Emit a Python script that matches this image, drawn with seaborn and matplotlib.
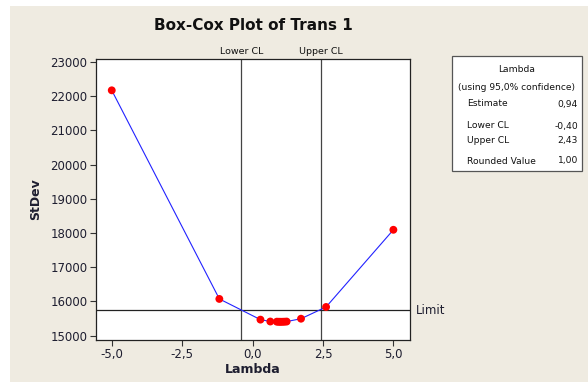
import matplotlib
matplotlib.use("Agg")
import matplotlib.pyplot as plt
import seaborn as sns
import pandas as pd
from matplotlib.patches import Rectangle

sns.set_theme(style="white")
plt.rcParams['font.family'] = ['DejaVu Sans']

# Data
lambdas = [-5.0, -1.18, 0.28, 0.63, 0.86, 0.92, 0.97, 1.02, 1.08, 1.14, 1.21, 1.72, 2.61, 5.0]
stdevs = [22170, 16075, 15470, 15415, 15410, 15408, 15407, 15407, 15408, 15410, 15414, 15497, 15840, 18095]
lower_cl = -0.40
upper_cl = 2.43
limit = 15745
xticks = [-5.0, -2.5, 0.0, 2.5, 5.0]
xtick_labels = ["-5,0", "-2,5", "0,0", "2,5", "5,0"]
yticks = [15000, 16000, 17000, 18000, 19000, 20000, 21000, 22000, 23000]
box_rows = [("Estimate", "0,94"), ("Lower CL", "-0,40"), ("Upper CL", "2,43"), ("Rounded Value", "1,00")]

df = pd.DataFrame({"Lambda": lambdas, "StDev": stdevs})

W, H = 588, 382
fig = plt.figure(figsize=(W / 100, H / 100), dpi=100)
fig.patch.set_facecolor("white")
bg = "#EFEBE1"
fig.patches.append(Rectangle((10 / W, 0), 1 - 10 / W, 1 - 6 / H, transform=fig.transFigure,
                             facecolor=bg, edgecolor="none", zorder=-10))

left, right, top, bottom = 95.7, 410, 59, 340
ax = fig.add_axes([left / W, 1 - bottom / H, (right - left) / W, (bottom - top) / H])
ax.set_facecolor("white")

sns.lineplot(data=df, x="Lambda", y="StDev", ax=ax, color="#2222ff", lw=0.8, sort=False, zorder=3)
sns.scatterplot(data=df, x="Lambda", y="StDev", ax=ax, color="#ff0000", s=32, edgecolor="none", zorder=4)

ax.axvline(lower_cl, color="#444444", lw=0.9, zorder=2)
ax.axvline(upper_cl, color="#444444", lw=0.9, zorder=2)
ax.axhline(limit, color="#222222", lw=0.9, zorder=2)

ax.set_xlim(-5.57, 5.59)
ax.set_ylim(14875, 23085)
ax.set_xticks(xticks)
ax.set_xticklabels(xtick_labels)
ax.set_yticks(yticks)
ax.set_yticklabels([str(v) for v in yticks])
ax.tick_params(axis="both", direction="out", length=4, width=0.8, color="#333333",
               labelsize=8.5, labelcolor="#1e1e30", bottom=True, left=True, pad=2)
for s in ax.spines.values():
    s.set_color("#222222")
    s.set_linewidth(0.9)

ax.set_xlabel("Lambda", fontsize=9, fontweight="bold", color="#1e1e30", labelpad=1)
ax.set_ylabel("StDev", fontsize=9, fontweight="bold", color="#1e1e30", labelpad=6)

fig.text(253 / W, 1 - 25 / H, "Box-Cox Plot of Trans 1", ha="center", va="center",
         fontsize=11, fontweight="bold", color="#111111")

ax.text(lower_cl, 1.012, "Lower CL", transform=ax.get_xaxis_transform(), ha="center", va="bottom",
        fontsize=6.8, color="#111111")
ax.text(upper_cl, 1.012, "Upper CL", transform=ax.get_xaxis_transform(), ha="center", va="bottom",
        fontsize=6.8, color="#111111")
ax.text(1.018, limit, "Limit", transform=ax.get_yaxis_transform(), ha="left", va="center",
        fontsize=8.5, color="#1e1e30")

# Info box
bx0, bx1, by0, by1 = 452, 582, 56, 171
fig.patches.append(Rectangle((bx0 / W, 1 - by1 / H), (bx1 - bx0) / W, (by1 - by0) / H,
                             transform=fig.transFigure, facecolor="white", edgecolor="#555555",
                             lw=0.9, zorder=1))
fs = 6.6
fig.text((bx0 + bx1) / 2 / W, 1 - 69 / H, "Lambda", ha="center", va="center", fontsize=fs, color="#111111")
fig.text((bx0 + bx1) / 2 / W, 1 - 87 / H, "(using 95,0% confidence)", ha="center", va="center",
         fontsize=fs, color="#111111")
row_y = [104, 126, 140, 161]
for (lab, val), yy in zip(box_rows, row_y):
    fig.text(467 / W, 1 - yy / H, lab, ha="left", va="center", fontsize=fs, color="#111111")
    fig.text(578 / W, 1 - yy / H, val, ha="right", va="center", fontsize=fs, color="#111111")

fig.savefig("out.png", dpi=100, facecolor=fig.get_facecolor())
